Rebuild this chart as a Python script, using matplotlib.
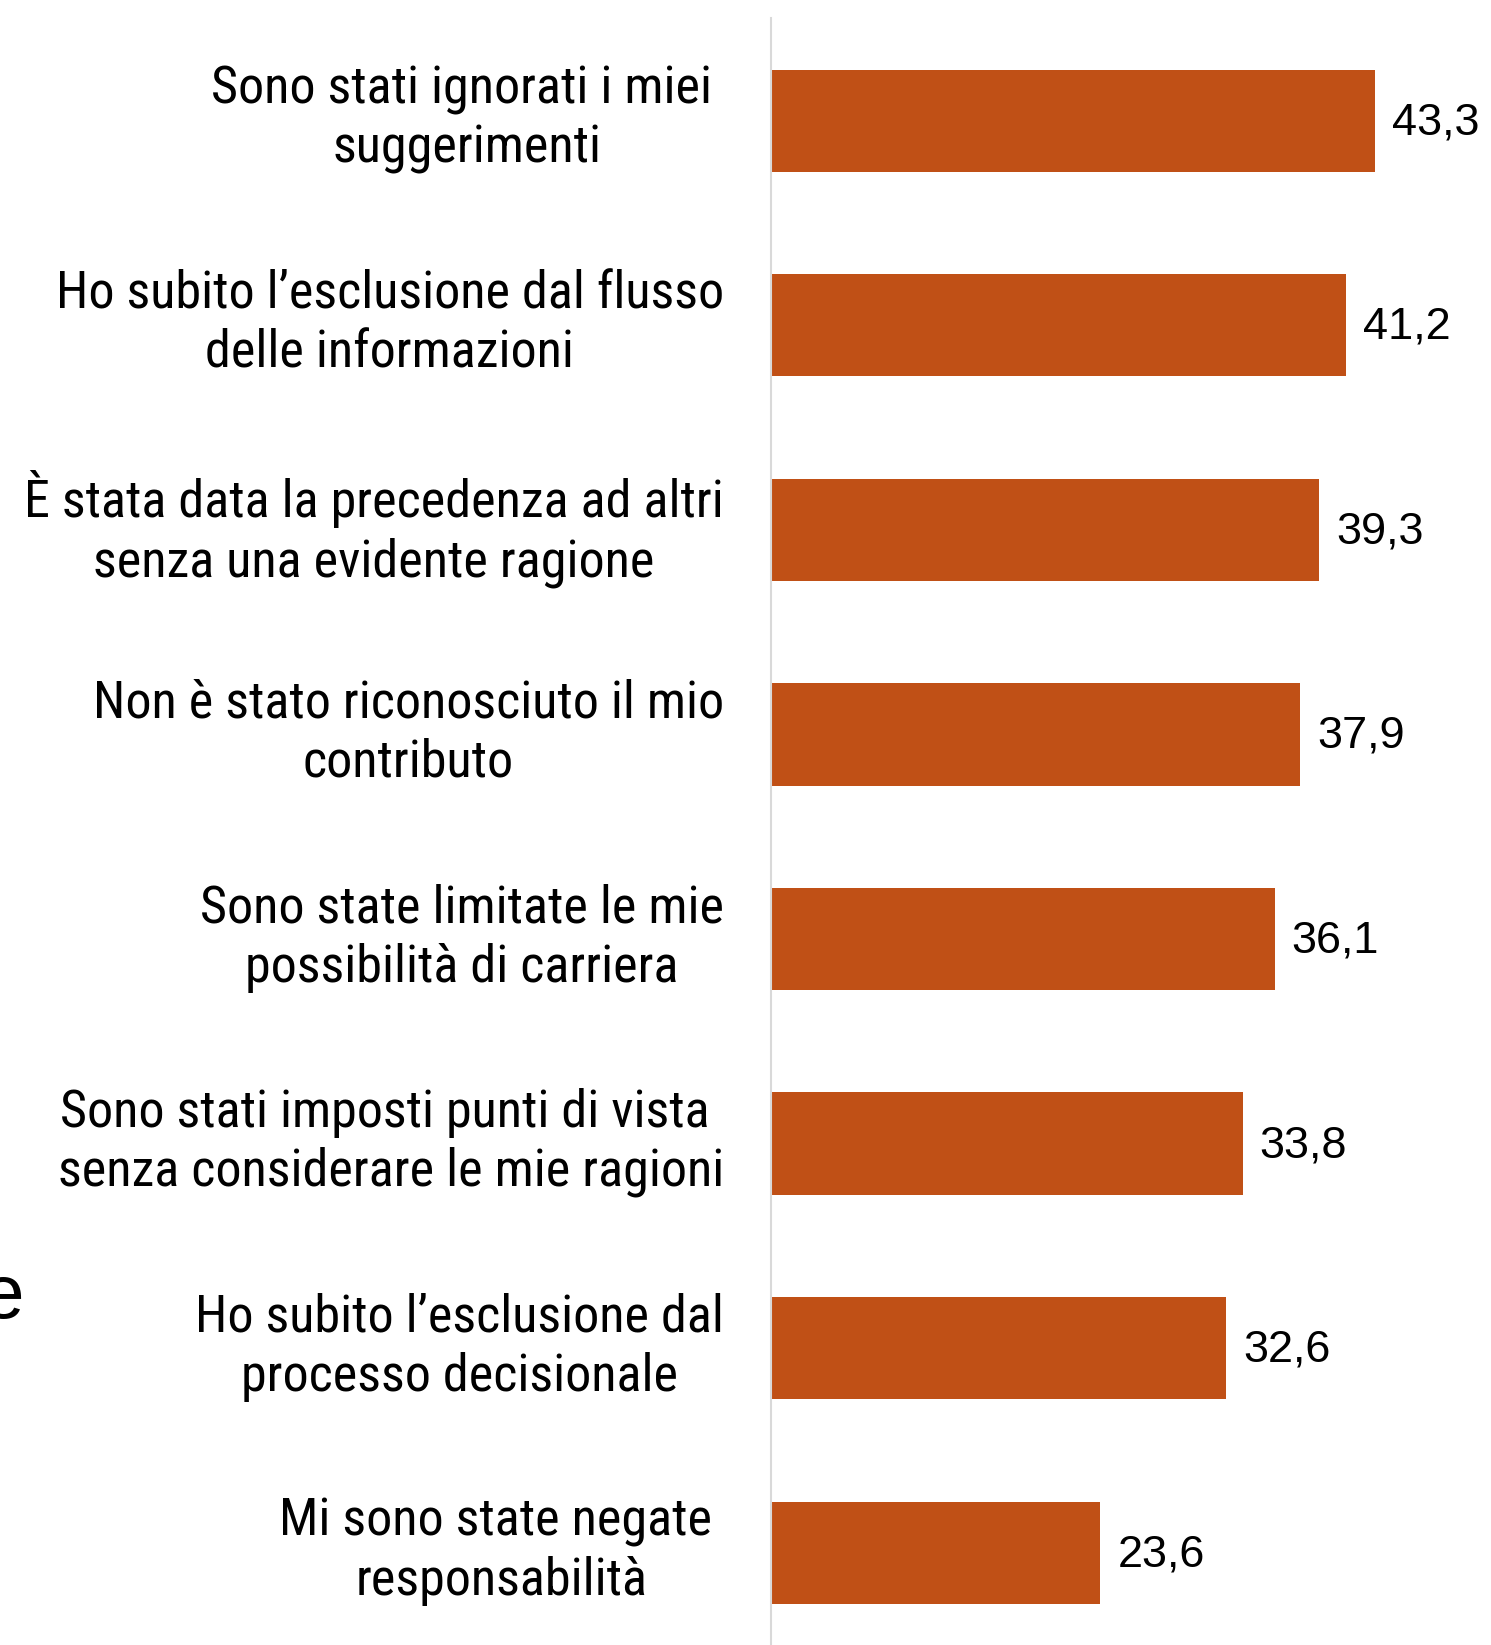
import matplotlib
matplotlib.use('Agg')
import matplotlib.pyplot as plt
from matplotlib import font_manager

# Survey answers (percent), top to bottom
categories = [
    "Sono stati ignorati i miei \nsuggerimenti",
    "Ho subito l\u2019esclusione dal flusso\ndelle informazioni",
    "\u00c8 stata data la precedenza ad altri\nsenza una evidente ragione",
    "Non \u00e8 stato riconosciuto il mio\ncontributo",
    "Sono state limitate le mie\npossibilit\u00e0 di carriera",
    "Sono stati imposti punti di vista \nsenza considerare le mie ragioni",
    "Ho subito l\u2019esclusione dal\nprocesso decisionale",
    "Mi sono state negate \nresponsabilit\u00e0",
]
values = [43.3, 41.2, 39.3, 37.9, 36.1, 33.8, 32.6, 23.6]
value_labels = ["43,3", "41,2", "39,3", "37,9", "36,1", "33,8", "32,6", "23,6"]

BAR_COLOR = '#C05016'
VALUE_FONT = ['Liberation Sans', 'DejaVu Sans']


def narrow_font():
    """Pick a condensed face for the category labels if one is installed."""
    names = sorted({f.name for f in font_manager.fontManager.ttflist})
    preferred = ['Roboto Condensed', 'Noto Sans Condensed', 'Liberation Sans Narrow',
                 'Open Sans Condensed', 'DejaVu Sans Condensed']
    narrow = [n for n in preferred if n in names]
    narrow += [n for n in names if ('Narrow' in n or 'Condensed' in n) and n not in narrow]
    if narrow:
        return [narrow[0], 'DejaVu Sans']
    return ['Liberation Sans', 'DejaVu Sans']


LABEL_FONT = narrow_font()

W, H = 1491, 1645
fig = plt.figure(figsize=(W / 100, H / 100), dpi=100)
fig.patch.set_facecolor('white')

# axes: zero line at x=771 px, category bands from y=18 px down past the bottom edge
ax = fig.add_axes([771 / W, -0.0061, 1 - 771 / W, 0.9949])
positions = list(range(len(values)))
ax.barh(positions, values, height=0.5, color=BAR_COLOR)
ax.set_xlim(0, 51.6)
ax.set_ylim(len(values) - 0.5, -0.5)

for pos, val, txt in zip(positions, values, value_labels):
    ax.annotate(txt, xy=(val, pos), xytext=(17, -2), textcoords='offset pixels',
                ha='left', va='center', fontsize=32.5, family=VALUE_FONT, color='black')

# category labels, right-aligned block with centred lines
for pos, cat in zip(positions, categories):
    ax.annotate(cat, xy=(0, pos), xytext=(-47, 1), textcoords='offset pixels',
                ha='right', va='center', multialignment='center', linespacing=1.23,
                fontsize=37.5, family=LABEL_FONT, color='black',
                annotation_clip=False)

ax.set_yticks([])
ax.set_xticks([])

for side in ('top', 'right', 'bottom'):
    ax.spines[side].set_visible(False)
ax.spines['left'].set_color('#D9D9D9')
ax.spines['left'].set_linewidth(1.5)

# fragment of a neighbouring title, cut by the left edge
fig.text(24 / W, 1 - 1318 / H, "e", ha='right', va='baseline', fontsize=55,
         family=VALUE_FONT, color='black')

fig.savefig('out.png', dpi=100, facecolor='white')
